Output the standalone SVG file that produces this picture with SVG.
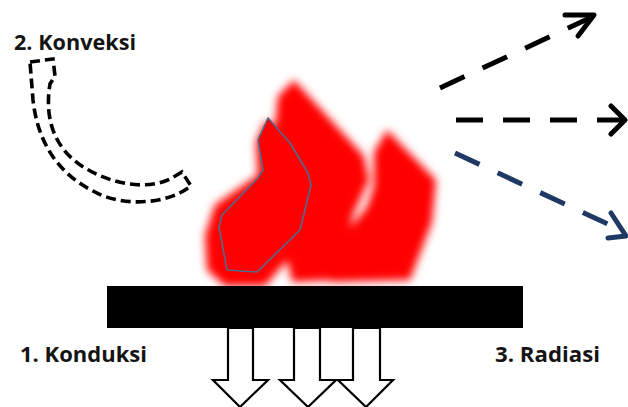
<svg xmlns="http://www.w3.org/2000/svg" width="628" height="407" viewBox="0 0 628 407">
  <defs>
    <filter id="soft" x="-20%" y="-20%" width="140%" height="140%">
      <feGaussianBlur stdDeviation="4"/>
    </filter>
    <style>
      .label { font-family: "Open Sans", "Liberation Sans", sans-serif; font-weight: bold; font-size: 21px; fill: #141414; }
      .ray { fill: none; stroke-width: 5; stroke-dasharray: 27 20; }
      .head { fill: none; stroke-width: 5; stroke-linecap: round; stroke-linejoin: round; }
      .down { fill: #ffffff; stroke: #000000; stroke-width: 2.2; stroke-linejoin: miter; }
    </style>
  </defs>
  <rect width="628" height="407" fill="#ffffff"/>

  <!-- flames -->
  <g id="flame">
    <g filter="url(#soft)" fill="#ff0000">
      <polygon points="278,96 294,80 364,156 369,180 353,215 338,280 292,282 270,180"/>
      <polygon points="374,152 387,130 436,180 432,222 410,280 330,282 340,240 367,207 374,186"/>
      <polygon points="266,120 256,142 258,175 215,205 205,235 207,270 225,286 265,286 305,240 316,190 300,150"/>
    </g>
    <polygon points="268,118 258,140 263,170 258,178 222,215 219,227 227,270 257,272 300,230 311,185 308,173 290,143" fill="#ff0000" stroke="#4f6b8c" stroke-width="1.6" stroke-linejoin="round"/>
  </g>

  <!-- heated plate -->
  <g id="plate">
    <rect x="107" y="286" width="416" height="42" fill="#000000"/>
  </g>

  <!-- conduction arrows -->
  <g id="conduction">
    <polygon class="down" points="228,328 253,328 253,380 268,380 240,407 213,380 228,380"/>
    <polygon class="down" points="294,328 320,328 320,380 336,380 308,407 280,380 294,380"/>
    <polygon class="down" points="353,328 380,328 380,380 393,380 366,407 338,380 353,380"/>
  </g>

  <!-- convection loop -->
  <g id="convection">
    <path d="M30,62 L53,59 L55,76 L50,84 C44,120 55,150 85,168 C115,186 150,190 172,178 L182,172 L191,186 C165,206 120,206 95,192 C60,175 38,145 33,100 Z" fill="none" stroke="#000000" stroke-width="3.6" stroke-dasharray="10 5"/>
  </g>

  <!-- radiation arrows -->
  <g id="connectors">
    <line class="ray" x1="440" y1="88" x2="592" y2="17" stroke="#000000"/>
    <polyline class="head" points="565,15 594,15 578,36" stroke="#000000"/>
    <line class="ray" x1="456" y1="120" x2="625" y2="120" stroke="#000000"/>
    <polyline class="head" points="611,106 625,120 611,134" stroke="#000000"/>
    <line class="ray" x1="455" y1="153" x2="625" y2="232" stroke="#1f3864"/>
    <polyline class="head" points="611,213 626,236 608,238" stroke="#1f3864"/>
  </g>

  <g id="labels">
    <text class="label" x="14" y="50" textLength="122" lengthAdjust="spacingAndGlyphs">2. Konveksi</text>
    <text class="label" x="20" y="362" textLength="127" lengthAdjust="spacingAndGlyphs">1. Konduksi</text>
    <text class="label" x="495" y="362" textLength="105" lengthAdjust="spacingAndGlyphs">3. Radiasi</text>
  </g>
</svg>
